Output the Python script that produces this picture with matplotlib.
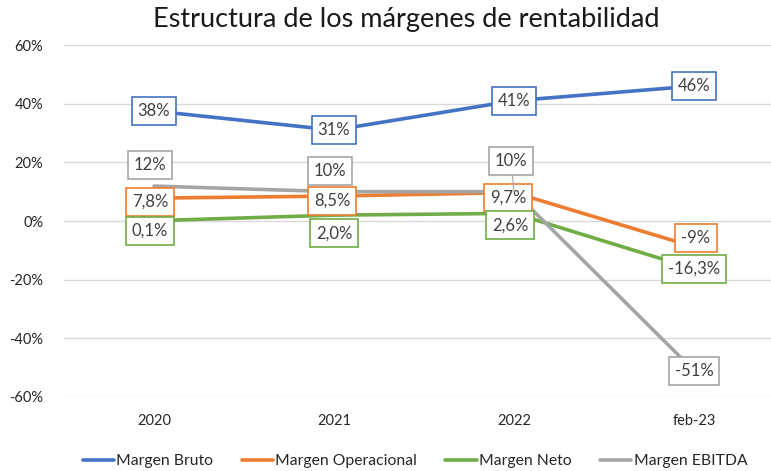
import numpy as np
import matplotlib
matplotlib.use("Agg")
import matplotlib.pyplot as plt

plt.rcParams['font.family'] = ['Lato', 'DejaVu Sans']

categorias = ["2020", "2021", "2022", "feb-23"]
margen_bruto = [0.375, 0.31, 0.41, 0.46]
margen_operacional = [0.078, 0.085, 0.097, -0.088]
margen_neto = [0.001, 0.020, 0.026, -0.163]
margen_ebitda = [0.119, 0.10, 0.10, -0.51]

lbl_bruto = ["38%", "31%", "41%", "46%"]
lbl_oper = ["7,8%", "8,5%", "9,7%", "-9%"]
lbl_neto = ["0,1%", "2,0%", "2,6%", "-16,3%"]
lbl_ebitda = ["12%", "10%", "10%", "-51%"]

yticks = [-0.6, -0.4, -0.2, 0.0, 0.2, 0.4, 0.6]
ytick_labels = ["-60%", "-40%", "-20%", "0%", "20%", "40%", "60%"]

c_azul = "#4472C4"
c_naranja = "#ED7D31"
c_verde = "#70AD47"
c_gris = "#A5A5A5"

fig = plt.figure(figsize=(7.71, 4.71), dpi=100)
ax = fig.add_axes([64/771, 74/471, 720/771, 352/471])

x = np.arange(len(categorias))
series = [
    ("Margen Bruto", margen_bruto, lbl_bruto, c_azul),
    ("Margen Operacional", margen_operacional, lbl_oper, c_naranja),
    ("Margen Neto", margen_neto, lbl_neto, c_verde),
    ("Margen EBITDA", margen_ebitda, lbl_ebitda, c_gris),
]
for nombre, vals, _, col in series:
    ax.plot(x, vals, color=col, lw=2.6, label=nombre, solid_capstyle='round')

# desplazamientos de las etiquetas en pixeles
offsets = {
    "Margen Bruto": [(0, 0), (0, 0), (0, 0), (0, 0)],
    "Margen Operacional": [(-4, -4), (-2, -5), (-6, -5), (2, 9)],
    "Margen Neto": [(-4, -10), (0, -18), (-4, -12), (0, 0)],
    "Margen EBITDA": [(-4, 21), (-4, 21), (-3, 31), (0, 0)],
}
for nombre, vals, lbls, col in series:
    for i, (v, t) in enumerate(zip(vals, lbls)):
        dx, dy = offsets[nombre][i]
        arrow = None
        if nombre == "Margen EBITDA" and i == 2:
            arrow = dict(arrowstyle='-', color=c_gris, lw=0.8, shrinkA=0, shrinkB=0)
        ax.annotate(t, (x[i], v), xytext=(dx, dy), textcoords='offset pixels',
                    ha='center', va='center', fontsize=12, color='#404040',
                    bbox=dict(boxstyle='square,pad=0.36', fc='white', ec=col, lw=1.2),
                    arrowprops=arrow, zorder=5)

ax.set_xlim(-0.5, 3.5)
ax.set_ylim(-0.6, 0.6)
ax.set_xticks(x)
ax.set_xticklabels(categorias)
ax.set_yticks(yticks)
ax.set_yticklabels(ytick_labels)
ax.tick_params(length=0, labelsize=10.5, colors='#262626')
ax.tick_params(axis='y', pad=15)
ax.tick_params(axis='x', pad=12)
ax.grid(axis='y', color='#D9D9D9', lw=1)
ax.set_axisbelow(True)
for s in ax.spines.values():
    s.set_visible(False)

fig.text(406/771, 1 - 19/471, "Estructura de los márgenes de rentabilidad", ha='center', va='center',
         fontsize=19.5, color='#1a1a1a')

fig.legend(loc='center', bbox_to_anchor=(415/771, 1 - 461/471), ncol=4, frameon=False,
           fontsize=11.3, handlelength=2.0, handletextpad=0.15, columnspacing=1.8,
           labelcolor='#262626')

fig.savefig("out.png", dpi=100)
